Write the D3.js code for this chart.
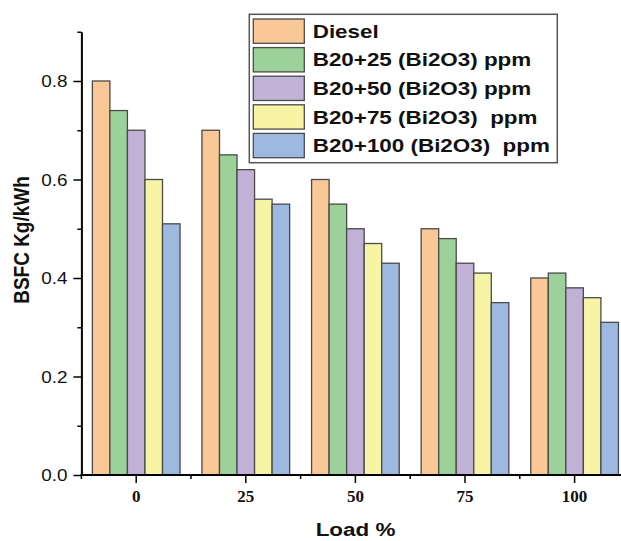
<!DOCTYPE html>
<html>
<head>
<meta charset="utf-8">
<script src="https://cdn.jsdelivr.net/npm/d3@7"></script>
<style>
  body { margin: 0; background: #fff; }
  svg { display: block; font-family: "Liberation Sans", Arial, sans-serif; }
</style>
</head>
<body>
<svg id="chart"></svg>
<script>
const loads = ["0", "25", "50", "75", "100"];
const seriesNames = ["Diesel", "B20+25 (Bi2O3) ppm", "B20+50 (Bi2O3) ppm", "B20+75 (Bi2O3)  ppm", "B20+100 (Bi2O3)  ppm"];
const colors = ["#fac896", "#9dd19a", "#c1b1d6", "#f7f4a6", "#9db9df"];
const diesel = [0.80, 0.70, 0.60, 0.50, 0.40];
const b25 = [0.74, 0.65, 0.55, 0.48, 0.41];
const b50 = [0.70, 0.62, 0.50, 0.43, 0.38];
const b75 = [0.60, 0.56, 0.47, 0.41, 0.36];
const b100 = [0.51, 0.55, 0.43, 0.35, 0.31];
const seriesValues = [diesel, b25, b50, b75, b100];
const majorTicks = [0, 0.2, 0.4, 0.6, 0.8];
const minorTicks = [0.1, 0.3, 0.5, 0.7, 0.9];

const W = 621, H = 541;
const stretch = 1.18; // text in the reference is a bit wide

const svg = d3.select("#chart").attr("width", W).attr("height", H);
svg.append("rect").attr("width", W).attr("height", H).attr("fill", "#fff");

const x0 = 81.4, bandW = 109.6;
const x = d3.scaleBand().domain(loads).range([x0, x0 + bandW * loads.length]).padding(0);
const xSub = d3.scaleBand().domain(seriesNames).range([x.bandwidth() * 0.1, x.bandwidth() * 0.9]).padding(0);
const y = d3.scaleLinear().domain([0, 0.9]).range([475, 31.75]);

// bars
const groups = svg.append("g").selectAll("g")
  .data(loads)
  .join("g")
  .attr("transform", d => `translate(${x(d)},0)`);

groups.selectAll("rect")
  .data((d, i) => seriesNames.map((s, j) => ({ s, j, v: seriesValues[j][i] })))
  .join("rect")
  .attr("x", d => xSub(d.s))
  .attr("y", d => y(d.v))
  .attr("width", xSub.bandwidth())
  .attr("height", d => y(0) - y(d.v))
  .attr("fill", d => colors[d.j])
  .attr("stroke", "#4a4a4a")
  .attr("stroke-width", 1.3);

// y axis
const yMinor = svg.append("g").attr("transform", `translate(${x0},0)`)
  .call(d3.axisLeft(y).tickValues(minorTicks).tickSize(4).tickFormat(""));
yMinor.select(".domain").remove();
yMinor.selectAll("line").attr("stroke", "#000").attr("stroke-width", 1.5);

const yAxis = svg.append("g").attr("transform", `translate(${x0},0)`)
  .call(d3.axisLeft(y).tickValues(majorTicks).tickSize(8).tickSizeOuter(0).tickFormat(d3.format(".1f")));
yAxis.select(".domain").attr("stroke", "#000").attr("stroke-width", 2);
yAxis.selectAll("line").attr("stroke", "#000").attr("stroke-width", 1.5);
yAxis.selectAll("text")
  .attr("x", null).attr("dy", null)
  .attr("transform", `translate(-14,5.7) scale(${stretch},1)`)
  .attr("font-size", 16)
  .attr("font-family", "Liberation Sans, Arial, sans-serif")
  .attr("fill", "#111");

// x axis
const xEnd = x0 + bandW * loads.length;
const xBase = svg.append("g").attr("transform", `translate(0,${y(0)})`);
xBase.append("line").attr("x1", x0 - 1).attr("x2", xEnd).attr("stroke", "#000").attr("stroke-width", 2);
xBase.selectAll(".minor")
  .data(d3.range(loads.length + 1))
  .join("line")
  .attr("class", "minor")
  .attr("x1", i => x0 + i * x.step()).attr("x2", i => x0 + i * x.step())
  .attr("y1", 0).attr("y2", 4)
  .attr("stroke", "#000").attr("stroke-width", 1.5);

const xAxis = svg.append("g").attr("transform", `translate(0,${y(0)})`)
  .call(d3.axisBottom(x).tickSize(8).tickSizeOuter(0));
xAxis.select(".domain").remove();
xAxis.selectAll("line").attr("stroke", "#000").attr("stroke-width", 1.5);
xAxis.selectAll("text")
  .attr("y", 27).attr("dy", null)
  .attr("font-size", 17)
  .attr("font-weight", "bold")
  .attr("font-family", "Liberation Serif, Times New Roman, serif")
  .attr("fill", "#111");

// axis titles
svg.append("text")
  .attr("transform", `translate(29,240) scale(${stretch},1) rotate(-90)`)
  .attr("text-anchor", "middle")
  .attr("font-size", 19)
  .attr("font-weight", "bold")
  .attr("fill", "#111")
  .text("BSFC Kg/kWh");

svg.append("text")
  .attr("transform", `translate(355.5,536) scale(${stretch},1)`)
  .attr("text-anchor", "middle")
  .attr("font-size", 19)
  .attr("font-weight", "bold")
  .attr("fill", "#111")
  .text("Load %");

// legend
const legend = svg.append("g");
legend.append("rect")
  .attr("x", 249.3).attr("y", 14.3).attr("width", 308).attr("height", 148.4)
  .attr("fill", "#fff").attr("stroke", "#555").attr("stroke-width", 1.5);

const rowH = 28.6;
const rows = legend.selectAll("g.row")
  .data(seriesNames)
  .join("g")
  .attr("class", "row")
  .attr("transform", (d, i) => `translate(0,${19 + i * rowH})`);

rows.append("rect")
  .attr("x", 253.3).attr("width", 51).attr("height", 24.3)
  .attr("fill", (d, i) => colors[i])
  .attr("stroke", "#4a4a4a").attr("stroke-width", 1.3);

rows.append("text")
  .attr("transform", `translate(312.7,18.7) scale(${stretch},1)`)
  .attr("font-size", 19)
  .attr("font-weight", "bold")
  .attr("fill", "#111")
  .style("white-space", "pre")
  .text(d => d);
</script>
</body>
</html>
